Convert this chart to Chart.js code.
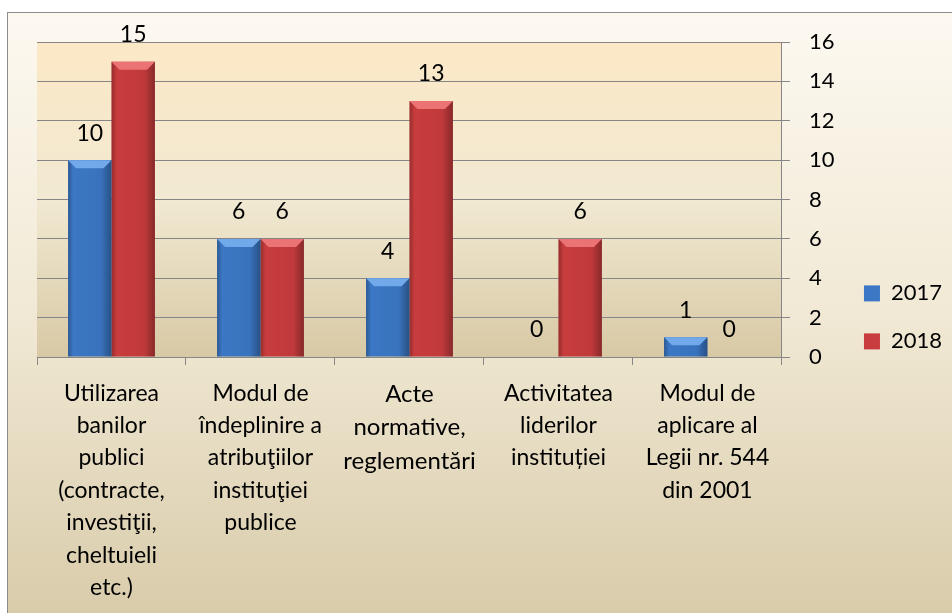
<!DOCTYPE html>
<html>
<head>
<meta charset="utf-8">
<script src="https://cdn.jsdelivr.net/npm/chart.js@4.4.0/dist/chart.umd.min.js"></script>
<style>
html, body { margin: 0; padding: 0; background: #fff; }
#wrap { width: 952px; height: 613px; }
</style>
</head>
<body>
<div id="wrap"><canvas id="petitiiChart"></canvas></div>
<script>
const categories = [
    ['Utilizarea', 'banilor', 'publici', '(contracte,', 'investiţii,', 'cheltuieli', 'etc.)'],
    ['Modul de', 'îndeplinire a', 'atribuţiilor', 'instituţiei', 'publice'],
    ['Acte', 'normative,', 'reglementări'],
    ['Activitatea', 'liderilor', 'instituției'],
    ['Modul de', 'aplicare al', 'Legii nr. 544', 'din 2001']
];
const seriesNames = ['2017', '2018'];
const values2017 = [10, 6, 4, 0, 1];
const values2018 = [15, 6, 13, 6, 0];
const yMin = 0;
const yMax = 16;
const yStep = 2;

const FONT = 'Lato';

// background frame + plot area gradient
const backdrop = {
    id: 'backdrop',
    beforeDraw(chart) {
        const { ctx, chartArea: a, width, height } = chart;
        ctx.save();
        ctx.fillStyle = '#fff';
        ctx.fillRect(0, 0, width, height);
        let g = ctx.createLinearGradient(0, 12, 0, height);
        g.addColorStop(0, '#fdf9f1');
        g.addColorStop(0.5, '#f1e9d5');
        g.addColorStop(1, '#d9ccab');
        ctx.fillStyle = g;
        ctx.fillRect(7, 12, width, height);
        ctx.strokeStyle = '#8c8c8c';
        ctx.lineWidth = 1;
        ctx.strokeRect(7.5, 12.5, width + 5, height + 5);
        g = ctx.createLinearGradient(0, a.top, 0, a.bottom);
        g.addColorStop(0, '#fce8c6');
        g.addColorStop(0.5, '#f1e9d2');
        g.addColorStop(1, '#d8c9a5');
        ctx.fillStyle = g;
        ctx.fillRect(a.left, a.top, a.right - a.left, a.bottom - a.top);
        ctx.restore();
    }
};

// bevel shading on top of the bars the library drew
const bevel = {
    id: 'bevel',
    afterDatasetsDraw(chart) {
        const ctx = chart.ctx;
        ctx.save();
        chart.data.datasets.forEach((ds, i) => {
            chart.getDatasetMeta(i).data.forEach(bar => {
                const { x, y, base, width } = bar.getProps(['x', 'y', 'base', 'width'], true);
                const h = base - y;
                if (h < 1) return;
                const l = x - width / 2, r = x + width / 2;
                const g = ctx.createLinearGradient(l, 0, r, 0);
                g.addColorStop(0, 'rgba(0,0,0,0.25)');
                g.addColorStop(0.12, 'rgba(0,0,0,0)');
                g.addColorStop(0.75, 'rgba(0,0,0,0.04)');
                g.addColorStop(1, 'rgba(0,0,0,0.32)');
                ctx.fillStyle = g;
                ctx.fillRect(l, y, width, h);
                const d = Math.min(8, h / 2);
                ctx.beginPath();
                ctx.moveTo(l, y);
                ctx.lineTo(r, y);
                ctx.lineTo(r - d, y + d);
                ctx.lineTo(l + d, y + d);
                ctx.closePath();
                ctx.fillStyle = ds.bevelColor;
                ctx.fill();
            });
        });
        ctx.restore();
    }
};

// value labels above bars
const valueLabels = {
    id: 'valueLabels',
    afterDatasetsDraw(chart) {
        const ctx = chart.ctx;
        ctx.save();
        ctx.font = '23px ' + FONT;
        ctx.fillStyle = '#000';
        ctx.textAlign = 'center';
        ctx.textBaseline = 'middle';
        chart.data.datasets.forEach((ds, i) => {
            chart.getDatasetMeta(i).data.forEach((bar, j) => {
                ctx.fillText(String(ds.data[j]), bar.x, bar.y - 27);
            });
        });
        ctx.restore();
    }
};

const ctx = document.getElementById('petitiiChart').getContext('2d');
new Chart(ctx, {
    type: 'bar',
    data: {
        labels: categories,
        datasets: [{
            label: seriesNames[0],
            data: values2017,
            backgroundColor: '#3b77c4',
            bevelColor: '#72a9ea',
            categoryPercentage: 0.583,
            barPercentage: 1
        }, {
            label: seriesNames[1],
            data: values2018,
            backgroundColor: '#c83c3d',
            bevelColor: '#ec7374',
            categoryPercentage: 0.583,
            barPercentage: 1
        }]
    },
    options: {
        responsive: true,
        maintainAspectRatio: false,
        animation: false,
        layout: { padding: { left: 37, top: 42, right: 0, bottom: 0 } },
        plugins: {
            tooltip: { enabled: false },
            legend: {
                position: 'right',
                align: 'start',
                fullSize: true,
                title: { display: true, text: '', padding: { top: 200, bottom: 0 } },
                labels: {
                    boxWidth: 16,
                    boxHeight: 16,
                    padding: 26,
                    color: '#000',
                    font: { family: FONT, size: 22 }
                }
            }
        },
        scales: {
            x: {
                grid: { offset: true, drawOnChartArea: false, color: '#868686', tickLength: 8 },
                border: { color: '#868686' },
                ticks: {
                    color: '#000',
                    padding: 12,
                    maxRotation: 0,
                    autoSkip: false,
                    font: c => ({ family: FONT, size: c.index === 2 ? 24 : 23, lineHeight: 1.41 })
                },
                afterFit(s) { s.height = 256; }
            },
            y: {
                position: 'right',
                min: yMin,
                max: yMax,
                grid: { color: '#868686', tickLength: 8 },
                border: { color: '#868686' },
                ticks: {
                    stepSize: yStep,
                    color: '#000',
                    padding: 19,
                    font: { family: FONT, size: 22 }
                },
                afterFit(s) { s.width = 56; }
            }
        }
    },
    plugins: [backdrop, bevel, valueLabels]
});
</script>
</body>
</html>
